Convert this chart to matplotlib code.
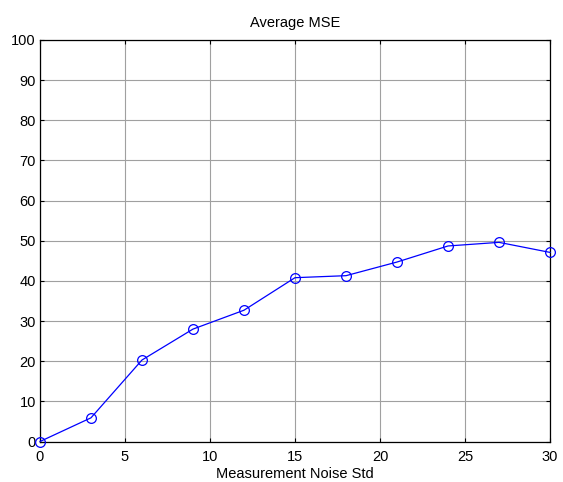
import matplotlib
matplotlib.use("Agg")
import matplotlib.pyplot as plt

noise_std = [0, 3, 6, 9, 12, 15, 18, 21, 24, 27, 30]
avg_mse = [0.0, 5.9, 20.3, 28.0, 32.7, 40.8, 41.3, 44.7, 48.7, 49.6, 47.1]
x_ticks = [0, 5, 10, 15, 20, 25, 30]
y_ticks = list(range(0, 101, 10))

plt.rcParams['font.family'] = ['Liberation Sans', 'DejaVu Sans']
fig = plt.figure(figsize=(5.63, 4.82), dpi=100)
ax = fig.add_axes([40/563, 1-441.5/482, 510/563, 401.5/482])
ax.plot(noise_std, avg_mse, color='#0000ff', lw=0.9, marker='o', ms=7,
        mfc='none', mec='#0000ff', mew=0.9, clip_on=False, zorder=3)
ax.set_xlim(0, 30)
ax.set_ylim(0, 100)
ax.set_xticks(x_ticks)
ax.set_yticks(y_ticks)
ax.grid(True, color='#a0a0a0', lw=0.8)
ax.tick_params(direction='in', length=3, labelsize=10.5, top=True, right=True, width=0.8)
ax.tick_params(axis='x', pad=6)
ax.tick_params(axis='y', pad=3)
for s in ax.spines.values():
    s.set_linewidth(0.9)
ax.set_xlabel('Measurement Noise Std', fontsize=10.5, labelpad=2)
ax.set_title('Average MSE', fontsize=10.5, pad=9)
fig.savefig('out.png', dpi=100)
